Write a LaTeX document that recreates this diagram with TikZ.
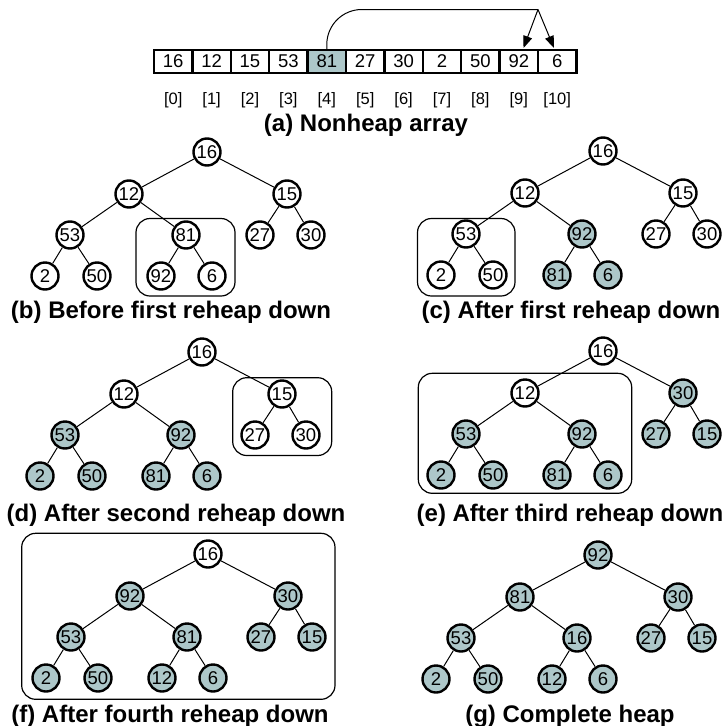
\documentclass[tikz,border=0pt]{standalone}
\usepackage{fontspec}
\setmainfont{Liberation Sans}
\usetikzlibrary{arrows.meta}
\definecolor{heapgray}{RGB}{173,199,201}
\tikzset{
  hn/.style={circle,draw,line width=2.4pt,minimum size=27pt,inner sep=0pt,fill=white,font=\fontsize{18.5}{18.5}\selectfont},
  hg/.style={hn,fill=heapgray},
  treeedge/.style={line width=1pt},
  subbox/.style={draw,line width=1.2pt,rounded corners=14pt},
  cell/.style={draw,line width=2.4pt,minimum width=38.4pt,minimum height=23pt,inner sep=0pt,fill=white,font=\fontsize{18.5}{18.5}\selectfont},
  cellg/.style={cell,fill=heapgray},
  idxlabel/.style={font=\fontsize{16.5}{16.5}\selectfont,anchor=base,inner sep=0pt},
  captext/.style={font=\bfseries\fontsize{24}{24}\selectfont,anchor=base,inner sep=0pt},
  linkline/.style={line width=1pt},
  arrowtip/.style={linkline,-{Triangle[length=12pt,width=9pt]}},
}
\newcommand\htree[3]{%
  \begin{scope}[shift={#2}]
    \foreach \v/\s [count=\i from 0] in {#3} {
      \pgfmathsetmacro\xx{{0,-78,80,-137,-21,53,104,-162,-110,-46,5}[\i]}
      \pgfmathsetmacro\yy{{0,42,42,83,83,83,83,124,124,124,124}[\i]}
      \node[\s] (#1\i) at (\xx,\yy) {\v};
    }
    \foreach \p/\c in {0/1,0/2,1/3,1/4,2/5,2/6,3/7,3/8,4/9,4/10}
      \draw[treeedge] (#1\p) -- (#1\c);
  \end{scope}}
\begin{document}
\begin{tikzpicture}[x=1pt,y=-1pt]
\useasboundingbox (0,0) rectangle (726,726);
% (a) array
\foreach \v/\s [count=\i from 0] in {16/cell,12/cell,15/cell,53/cell,81/cellg,27/cell,30/cell,2/cell,50/cell,92/cell,6/cell} {
  \node[\s] (c\i) at (173.2+38.4*\i,61.5) {\v};
  \node[idxlabel] (i\i) at (173.2+38.4*\i,104) {[\i]};
}
\coordinate (split) at (538,9.5);
\coordinate (t9) at (523.5,48);
\coordinate (t10) at (554,48);
\draw[linkline,rounded corners=35pt] (c4.north) -- (c4.north |- split) -- (split);
\draw[arrowtip] (split) -- (t9);
\draw[arrowtip] (split) -- (t10);
\node[captext] (capa) at (366,131.5) {(a) Nonheap array};
% (b)
\htree{b}{(207,152)}{16/hn,12/hn,15/hn,53/hn,81/hn,27/hn,30/hn,2/hn,50/hn,92/hn,6/hn}
\draw[subbox] (136,218.5) rectangle (235,296);
\node[captext] (capb) at (171,318.5) {(b) Before first reheap down};
% (c)
\htree{c}{(603,151)}{16/hn,12/hn,15/hn,53/hn,92/hg,27/hn,30/hn,2/hn,50/hn,81/hg,6/hg}
\draw[subbox] (417.5,218.5) rectangle (515,296);
\node[captext] (capc) at (571,318.5) {(c) After first reheap down};
% (d)
\htree{d}{(202,352)}{16/hn,12/hn,15/hn,53/hg,92/hg,27/hn,30/hn,2/hg,50/hg,81/hg,6/hg}
\draw[subbox] (232.7,377.7) rectangle (331.7,455.5);
\node[captext] (capd) at (176,521) {(d) After second reheap down};
% (e)
\htree{e}{(603,351)}{16/hn,12/hn,30/hg,53/hg,92/hg,27/hg,15/hg,2/hg,50/hg,81/hg,6/hg}
\draw[subbox] (418.3,373.3) rectangle (631.7,493.3);
\node[captext] (cape) at (570,521) {(e) After third reheap down};
% (f)
\htree{f}{(208,554)}{16/hn,92/hg,30/hg,53/hg,81/hg,27/hg,15/hg,2/hg,50/hg,12/hg,6/hg}
\draw[subbox] (21.7,533.3) rectangle (335,699.3);
\node[captext] (capf) at (170,722) {(f) After fourth reheap down};
% (g)
\htree{g}{(598,555)}{92/hg,81/hg,30/hg,53/hg,16/hg,27/hg,15/hg,2/hg,50/hg,12/hg,6/hg}
\node[captext] (capg) at (570,722) {(g) Complete heap};
\end{tikzpicture}
\end{document}
